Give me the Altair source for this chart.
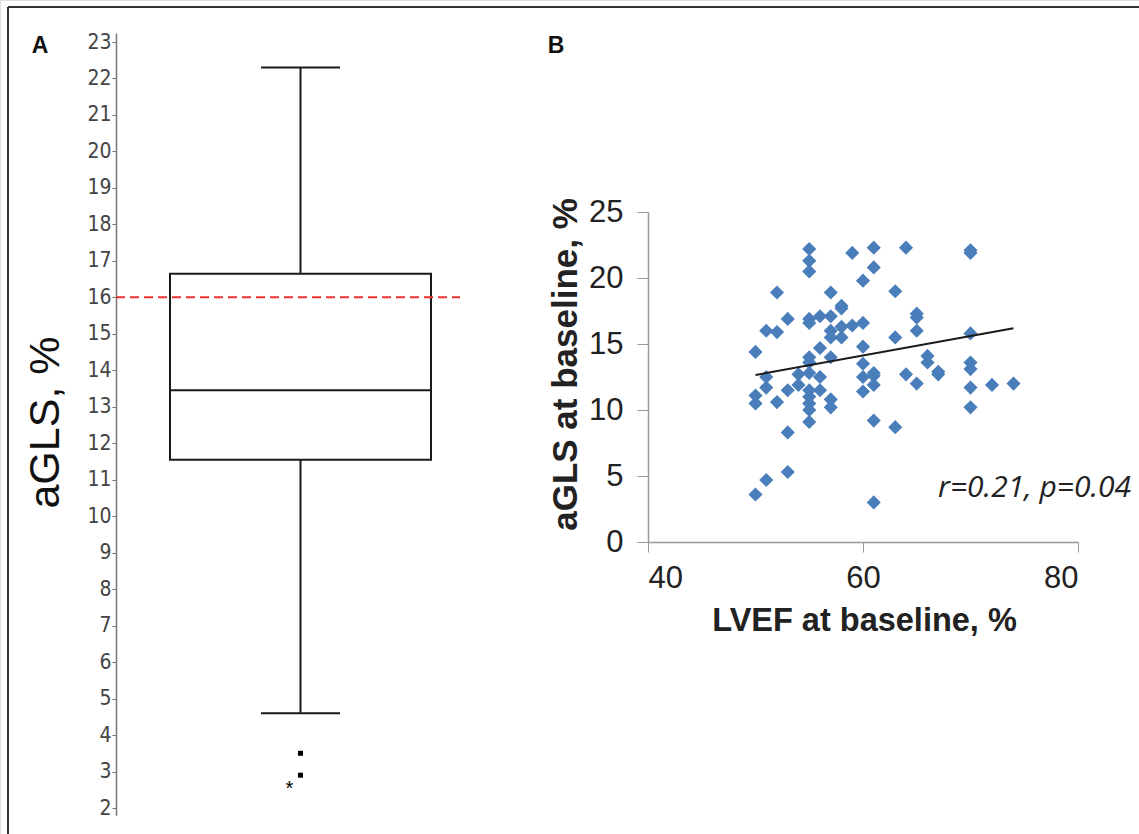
import altair as alt
import pandas as pd

# ---------------- Panel A: distribution of aGLS (%) ----------------
box_group = ["aGLS"]
box_lower = [4.6]
box_q1 = [11.55]
box_median = [13.45]
box_q3 = [16.65]
box_upper = [22.3]
outlier_values = [3.5, 2.9]
extreme_values = [2.62]
cutoff_value = [16.0]
panel_a_ticks = list(range(2, 24))

# ---------------- Panel B: aGLS vs LVEF at baseline ----------------
lvef = [
    50, 50, 50, 50,
    51, 51, 51, 51,
    52, 52, 52,
    53, 53, 53, 53,
    54, 54,
    55, 55, 55, 55, 55, 55, 55, 55, 55, 55, 55, 55, 55,
    56, 56, 56, 56,
    57, 57, 57, 57, 57, 57, 57,
    58, 58, 58, 58,
    59, 59,
    60, 60, 60, 60, 60, 60,
    61, 61, 61, 61, 61, 61, 61,
    63, 63, 63,
    64, 64,
    65, 65, 65, 65,
    66, 66,
    67, 67,
    70, 70, 70, 70, 70, 70, 70,
    72,
    74,
]
agls = [
    14.4, 11.1, 10.5, 3.6,
    16.0, 12.5, 11.7, 4.7,
    18.9, 15.9, 10.6,
    16.9, 11.5, 8.3, 5.3,
    12.7, 11.9,
    22.2, 21.3, 20.5, 16.9, 16.6, 14.0, 13.6, 12.8, 11.5, 11.0, 10.5, 10.0, 9.1,
    17.1, 14.7, 12.5, 11.5,
    18.9, 17.1, 16.0, 15.5, 14.0, 10.8, 10.2,
    17.9, 17.7, 16.3, 15.5,
    21.9, 16.4,
    19.8, 16.6, 14.8, 13.5, 12.5, 11.4,
    22.3, 20.8, 12.8, 12.6, 11.9, 9.2, 3.0,
    19.0, 15.5, 8.7,
    22.3, 12.7,
    17.3, 17.0, 16.0, 12.0,
    14.1, 13.6,
    12.9, 12.7,
    22.1, 21.9, 15.8, 13.6, 13.1, 11.7, 10.2,
    11.9,
    12.0,
]
trend_lvef = [50, 74]
trend_agls = [12.65, 16.2]
stats_label = "r=0.21, p=0.04"
x_ticks = [40, 60, 80]
y_ticks = [0, 5, 10, 15, 20, 25]

W, H = 1139, 834
INK = "#1a1a1a"
BLUE = "#4a7ebb"

# ---------- Panel A layers ----------
df_box = pd.DataFrame({
    "grp": box_group, "lower": box_lower, "q1": box_q1,
    "median": box_median, "q3": box_q3, "upper": box_upper,
})
df_out = pd.DataFrame({"grp": box_group * len(outlier_values), "v": outlier_values})
df_ext = pd.DataFrame({"grp": box_group * len(extreme_values), "v": extreme_values})
df_cut = pd.DataFrame({"v": cutoff_value})


def xa():
    return alt.X(
        "grp:N",
        scale=alt.Scale(domain=box_group, range=[170, 431], paddingInner=0, paddingOuter=0),
        axis=None,
    )


def ya_scale():
    return alt.Scale(domain=[1.8, 23.25], range=[815.3, 32.9], nice=False, zero=False)


ya_axis = alt.Axis(
    orient="left", offset=-116, values=panel_a_ticks, grid=False,
    tickSize=4, tickColor="#777", tickWidth=1,
    domainColor="#777", domainWidth=1.5,
    labelFont="Liberation Sans Narrow, DejaVu Sans Condensed, Arial Narrow, sans-serif",
    labelFontSize=21, labelColor="#444", labelPadding=1,
    title="aGLS, %", titleFont="Liberation Sans, Arial, sans-serif",
    titleFontSize=43, titleFontWeight="normal", titleColor="#111",
    titleAngle=270, titleX=-71, titleY=422,
    titleAlign="center", titleBaseline="middle",
)

whisker = alt.Chart(df_box).mark_rule(color=INK, strokeWidth=2).encode(
    x=xa(), y=alt.Y("lower:Q", scale=ya_scale(), axis=ya_axis), y2="upper:Q"
)
box = alt.Chart(df_box).mark_bar(fill="white", stroke=INK, strokeWidth=2, opacity=1).encode(
    x=xa(), y=alt.Y("q1:Q", scale=ya_scale(), axis=None), y2="q3:Q"
)
median = alt.Chart(df_box).mark_tick(color=INK, size=261, thickness=2, opacity=1).encode(
    x=xa(), y=alt.Y("median:Q", scale=ya_scale(), axis=None)
)
cap_hi = alt.Chart(df_box).mark_tick(color=INK, size=79, thickness=2, opacity=1).encode(
    x=xa(), y=alt.Y("upper:Q", scale=ya_scale(), axis=None)
)
cap_lo = alt.Chart(df_box).mark_tick(color=INK, size=79, thickness=2, opacity=1).encode(
    x=xa(), y=alt.Y("lower:Q", scale=ya_scale(), axis=None)
)
outs = alt.Chart(df_out).mark_square(size=25, color="#000", opacity=1).encode(
    x=xa(), y=alt.Y("v:Q", scale=ya_scale(), axis=None)
)
extr = alt.Chart(df_ext).mark_text(
    text="*", fontSize=20, dx=-11, dy=4, color="#000", font="Liberation Sans"
).encode(x=xa(), y=alt.Y("v:Q", scale=ya_scale(), axis=None))
cut = alt.Chart(df_cut).mark_rule(
    color="#e8322f", strokeWidth=2, strokeDash=[9, 5]
).encode(
    y=alt.Y("v:Q", scale=ya_scale(), axis=None),
    x=alt.value(116), x2=alt.value(460),
)

# ---------- Panel B layers ----------
df_sc = pd.DataFrame({"lvef": lvef, "agls": agls})
df_tr = pd.DataFrame({"lvef": trend_lvef, "agls": trend_agls})


def xb_scale():
    return alt.Scale(domain=[40, 80], range=[648, 1078], nice=False, zero=False)


def yb_scale():
    return alt.Scale(domain=[0, 25], range=[542, 212], nice=False, zero=False)


xb_axis = alt.Axis(
    orient="bottom", offset=-(H - 542), values=x_ticks, grid=False,
    tickSize=10, tickColor="#999", domainColor="#999", domainWidth=1.5,
    labelFont="Liberation Sans, Arial, sans-serif", labelFontSize=31,
    labelColor="#222", labelPadding=11,
    title="LVEF at baseline, %", titleFont="Liberation Sans, Arial, sans-serif",
    titleFontSize=32.5, titleFontWeight="bold", titleColor="#222",
    titleX=864, titleY=78, titleAlign="center", titleBaseline="middle",
)
yb_axis = alt.Axis(
    orient="left", offset=-648, values=y_ticks, grid=False,
    tickSize=11, tickColor="#999", domainColor="#999", domainWidth=1.5,
    labelFont="Liberation Sans, Arial, sans-serif", labelFontSize=31,
    labelColor="#222", labelPadding=14,
    title="aGLS at baseline, %", titleFont="Liberation Sans, Arial, sans-serif",
    titleFontSize=35, titleFontWeight="bold", titleColor="#222",
    titleAngle=270, titleX=-83, titleY=364,
    titleAlign="center", titleBaseline="middle",
)

scatter = alt.Chart(df_sc).mark_point(
    shape="diamond", filled=True, size=200, color=BLUE, opacity=1
).encode(
    x=alt.X("lvef:Q", scale=xb_scale(), axis=xb_axis),
    y=alt.Y("agls:Q", scale=yb_scale(), axis=yb_axis),
)
trend = alt.Chart(df_tr).mark_line(color=INK, strokeWidth=2).encode(
    x=alt.X("lvef:Q", scale=xb_scale(), axis=None),
    y=alt.Y("agls:Q", scale=yb_scale(), axis=None),
)
stats = alt.Chart(pd.DataFrame({"t": [stats_label]})).mark_text(
    font="Open Sans", fontStyle="italic", fontSize=30, color="#222",
    align="right", baseline="middle",
).encode(text="t:N", x=alt.value(1131), y=alt.value(488))

# ---------- figure frame and panel letters ----------
frame_top = alt.Chart(pd.DataFrame({"k": [0]})).mark_rule(color="#333", strokeWidth=2).encode(
    x=alt.value(8), x2=alt.value(W), y=alt.value(7)
)
frame_left = alt.Chart(pd.DataFrame({"k": [0]})).mark_rule(color="#333", strokeWidth=2).encode(
    x=alt.value(8), y=alt.value(7), y2=alt.value(H)
)
letter_a = alt.Chart(pd.DataFrame({"t": ["A"]})).mark_text(
    font="Liberation Sans, Arial, sans-serif", fontWeight="bold", fontSize=23,
    color="#111", align="center", baseline="alphabetic",
).encode(text="t:N", x=alt.value(40), y=alt.value(53))
letter_b = alt.Chart(pd.DataFrame({"t": ["B"]})).mark_text(
    font="Liberation Sans, Arial, sans-serif", fontWeight="bold", fontSize=23,
    color="#111", align="center", baseline="alphabetic",
).encode(text="t:N", x=alt.value(556), y=alt.value(53))

chart = alt.layer(
    whisker, box, median, cap_hi, cap_lo, outs, extr, cut,
    scatter, trend, stats,
    frame_top, frame_left, letter_a, letter_b,
).resolve_scale(
    x="independent", y="independent"
).properties(
    width=W, height=H, padding=0,
    autosize=alt.AutoSizeParams(type="none"),
).configure_view(stroke=None).configure(background="white")

chart.save("out.html", embed_options={"renderer": "svg", "actions": False})
